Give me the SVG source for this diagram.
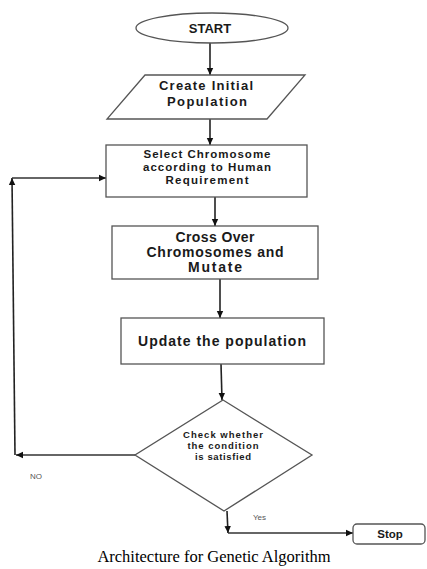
<svg xmlns="http://www.w3.org/2000/svg" width="427" height="569" viewBox="0 0 427 569">
<defs>
<marker id="ah" markerWidth="8" markerHeight="8" refX="7" refY="4" orient="auto" markerUnits="userSpaceOnUse">
<path d="M0,0.8 L7,4 L0,7.2 Z" fill="#111"/>
</marker>
<style>
.shape{fill:#fff;stroke:#555;stroke-width:1.3}
.lbl{font-family:"Liberation Sans",Arial,sans-serif;font-weight:bold;fill:#1a1a1a;text-anchor:middle}
.conn{fill:none;stroke:#222;stroke-width:1.6}
.thin{fill:none;stroke:#333;stroke-width:1.3}
.small{font-family:"Liberation Sans",Arial,sans-serif;fill:#555;font-size:8px}
</style>
</defs>
<rect width="427" height="569" fill="#fff"/>
<g id="connectors">
<line class="conn" x1="210" y1="43" x2="210" y2="75" marker-end="url(#ah)"/>
<line class="conn" x1="210" y1="119" x2="210" y2="145" marker-end="url(#ah)"/>
<line class="conn" x1="215" y1="197" x2="215" y2="226" marker-end="url(#ah)"/>
<line class="conn" x1="220" y1="279" x2="220" y2="318" marker-end="url(#ah)"/>
<line class="conn" x1="221" y1="364" x2="222" y2="400" marker-end="url(#ah)"/>
<line class="thin" x1="135" y1="455" x2="16" y2="455" marker-end="url(#ah)"/>
<line class="conn" x1="15" y1="455" x2="12" y2="178" marker-end="url(#ah)"/>
<line class="thin" x1="12" y1="178" x2="106" y2="178" marker-end="url(#ah)"/>
<line class="conn" x1="227" y1="511" x2="228" y2="533" marker-end="url(#ah)"/>
<line class="thin" x1="228" y1="533" x2="353" y2="533" marker-end="url(#ah)"/>
<text class="small" x="30" y="479">NO</text>
<text class="small" x="253" y="520">Yes</text>
</g>
<g id="start">
<ellipse class="shape" cx="212" cy="28" rx="76" ry="15"/>
<text class="lbl" x="210" y="33" font-size="13">START</text>
</g>
<g id="create">
<polygon class="shape" points="145,75 305,75 267,119 107,119"/>
<text class="lbl" x="206" y="90" font-size="13" textLength="94" lengthAdjust="spacing">Create Initial</text>
<text class="lbl" x="207" y="106" font-size="13" textLength="80" lengthAdjust="spacing">Population</text>
</g>
<g id="select">
<rect class="shape" x="106" y="145" width="201" height="52"/>
<text class="lbl" x="207" y="158" font-size="11.5" textLength="127" lengthAdjust="spacing">Select Chromosome</text>
<text class="lbl" x="207" y="171" font-size="11.5" textLength="128" lengthAdjust="spacing">according to Human</text>
<text class="lbl" x="207" y="184" font-size="11.5" textLength="83" lengthAdjust="spacing">Requirement</text>
</g>
<g id="cross">
<rect class="shape" x="112" y="226" width="206" height="53"/>
<text class="lbl" x="215" y="242" font-size="14" textLength="79" lengthAdjust="spacing">Cross Over</text>
<text class="lbl" x="215" y="257" font-size="14" textLength="137" lengthAdjust="spacing">Chromosomes and</text>
<text class="lbl" x="215" y="272" font-size="14" textLength="54" lengthAdjust="spacing">Mutate</text>
</g>
<g id="update">
<rect class="shape" x="121" y="318" width="203" height="46"/>
<text class="lbl" x="222" y="346" font-size="14" textLength="168" lengthAdjust="spacing">Update the population</text>
</g>
<g id="check">
<polygon class="shape" points="223,400 312,455 224,511 135,455"/>
<text class="lbl" x="223" y="438" font-size="9.5" textLength="80" lengthAdjust="spacing" fill="#333">Check whether</text>
<text class="lbl" x="223" y="449" font-size="9.5" textLength="71" lengthAdjust="spacing" fill="#333">the condition</text>
<text class="lbl" x="223" y="460" font-size="9.5" textLength="56" lengthAdjust="spacing" fill="#333">is satisfied</text>
</g>
<g id="stop">
<rect class="shape" x="353" y="524" width="72" height="20" rx="4"/>
<text class="lbl" x="390" y="538" font-size="11.5">Stop</text>
</g>
<text x="214" y="562" font-family="'Liberation Serif','Times New Roman',serif" font-size="16.5" text-anchor="middle" fill="#000">Architecture for Genetic Algorithm</text>
</svg>
